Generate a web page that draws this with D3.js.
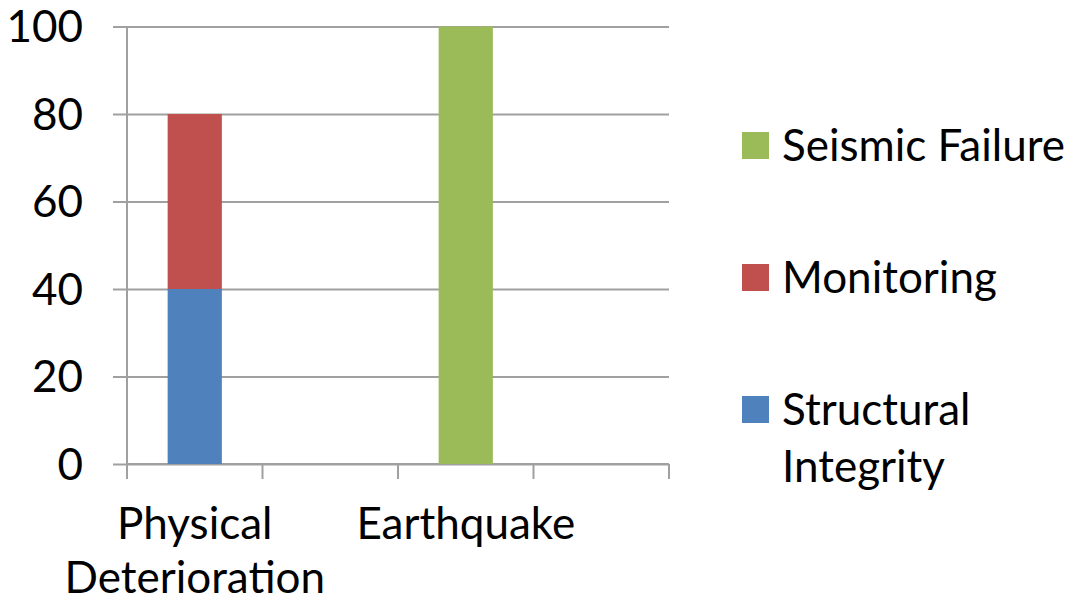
<!DOCTYPE html>
<html>
<head>
<meta charset="utf-8">
<script src="https://cdn.jsdelivr.net/npm/d3@7"></script>
<style>
  body { margin: 0; background: #fff; }
  text { font-family: Lato, "Open Sans", sans-serif; fill: #000; }
</style>
</head>
<body>
<svg id="chart" width="1072" height="602"></svg>
<script>
// categories (Excel skipped every other label, so two slots are blank)
var categories = [["Physical", "Deterioration"], [""], ["Earthquake"], [""]];
var seriesNames = ["Structural Integrity", "Monitoring", "Seismic Failure"];
var structuralIntegrity = [40, 0, 0, 0];
var monitoring = [40, 0, 0, 0];
var seismicFailure = [0, 0, 100, 0];
var yTicks = [0, 20, 40, 60, 80, 100];
var colors = ["#4f81bd", "#c0504d", "#9bbb59"];

var svg = d3.select("#chart");
var margin = {left: 127, right: 403, top: 26.5, bottom: 138};
var width = 1072 - margin.left - margin.right,
    height = 602 - margin.top - margin.bottom;
var fontSize = "44px";

var rows = categories.map(function(c, i) {
  return {idx: i, "Structural Integrity": structuralIntegrity[i],
          "Monitoring": monitoring[i], "Seismic Failure": seismicFailure[i]};
});

var x = d3.scaleBand().domain(d3.range(categories.length)).range([0, width]).paddingInner(0.6).paddingOuter(0.3);
var xSlot = d3.scaleLinear().domain([0, categories.length]).range([0, width]);
var y = d3.scaleLinear().domain([0, 100]).range([height, 0]);

var g = svg.append("g").attr("transform", "translate(" + margin.left + "," + margin.top + ")");

// gridlines + left ticks
g.append("g")
  .attr("class", "grid")
  .attr("transform", "translate(-14,0)")
  .call(d3.axisRight(y).tickValues(yTicks).tickSize(width + 14).tickFormat(""))
  .call(function(s) {
    s.select(".domain").remove();
    s.selectAll("line").attr("stroke", "#a0a0a0").attr("stroke-width", 2);
  });

// y labels
g.append("g")
  .selectAll("text")
  .data(yTicks)
  .enter()
  .append("text")
  .attr("x", -44)
  .attr("y", function(d) { return y(d); })
  .attr("dy", "0.36em")
  .attr("text-anchor", "end")
  .style("font-size", fontSize)
  .text(function(d) { return d; });

// y axis line
g.append("line")
  .attr("x1", 0).attr("x2", 0)
  .attr("y1", 0).attr("y2", height + 15)
  .attr("stroke", "#a0a0a0").attr("stroke-width", 2);

// x axis line + slot ticks
g.append("line")
  .attr("x1", 0).attr("x2", width)
  .attr("y1", height).attr("y2", height)
  .attr("stroke", "#a0a0a0").attr("stroke-width", 2);
g.append("g")
  .selectAll("line")
  .data(d3.range(categories.length + 1))
  .enter()
  .append("line")
  .attr("x1", function(d) { return xSlot(d); })
  .attr("x2", function(d) { return xSlot(d); })
  .attr("y1", height).attr("y2", height + 15)
  .attr("stroke", "#a0a0a0").attr("stroke-width", 2);

// stacked bars
var stack = d3.stack().keys(seriesNames)(rows);
g.append("g")
  .selectAll("g")
  .data(stack)
  .enter()
  .append("g")
  .attr("fill", function(d, i) { return colors[i]; })
  .selectAll("rect")
  .data(function(d) { return d; })
  .enter()
  .append("rect")
  .attr("x", function(d) { return x(d.data.idx); })
  .attr("width", x.bandwidth())
  .attr("y", function(d) { return y(d[1]); })
  .attr("height", function(d) { return y(d[0]) - y(d[1]); });

// category labels
var catLabels = g.append("g")
  .selectAll("text")
  .data(categories)
  .enter()
  .append("text")
  .attr("text-anchor", "middle")
  .attr("transform", function(d, i) { return "translate(" + (x(i) + x.bandwidth() / 2) + "," + (height + 75) + ")"; })
  .style("font-size", fontSize);
catLabels.selectAll("tspan")
  .data(function(d) { return d; })
  .enter()
  .append("tspan")
  .attr("x", 0)
  .attr("y", function(d, i) { return i * 54; })
  .text(function(d) { return d; });

// legend (reverse order, top = Seismic Failure)
var legendItems = [
  {name: ["Seismic Failure"], color: colors[2], y: 145.5},
  {name: ["Monitoring"], color: colors[1], y: 277.5},
  {name: ["Structural", "Integrity"], color: colors[0], y: 409.5}
];
var legend = svg.append("g")
  .selectAll("g")
  .data(legendItems)
  .enter()
  .append("g")
  .attr("transform", function(d) { return "translate(742," + d.y + ")"; });
legend.append("rect")
  .attr("x", 0).attr("y", -13.5)
  .attr("width", 27).attr("height", 27)
  .attr("fill", function(d) { return d.color; });
legend.append("text")
  .attr("x", 40)
  .style("font-size", fontSize)
  .selectAll("tspan")
  .data(function(d) { return d.name; })
  .enter()
  .append("tspan")
  .attr("x", 40)
  .attr("y", function(d, i) { return i * 57; })
  .attr("dy", "0.36em")
  .text(function(d) { return d; });
</script>
</body>
</html>
